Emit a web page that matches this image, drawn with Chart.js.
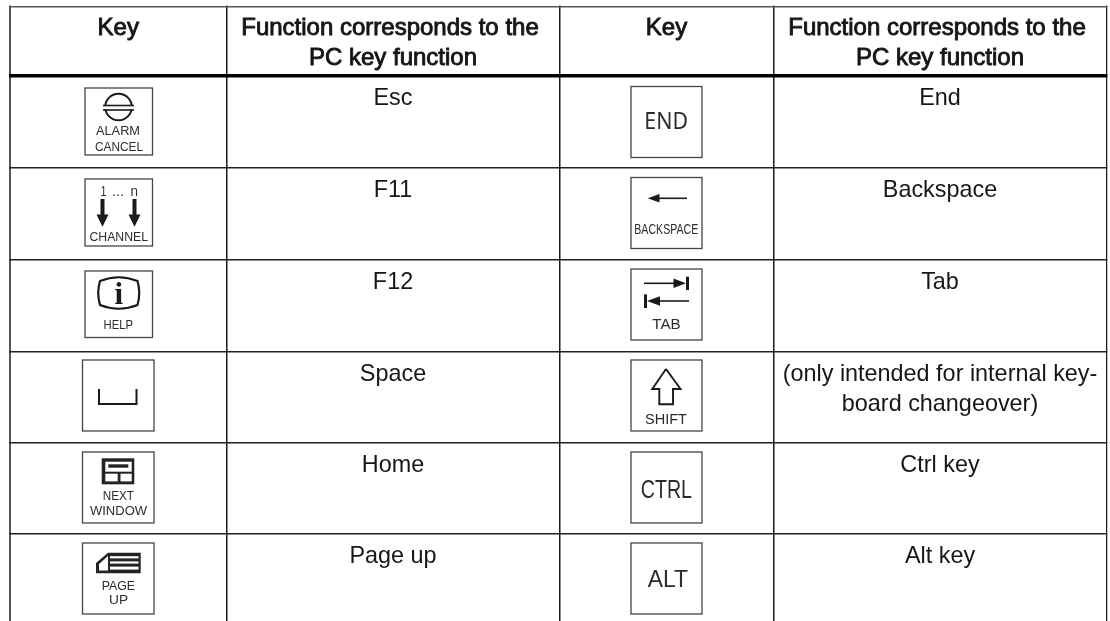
<!DOCTYPE html>
<html><head><meta charset="utf-8">
<style>html,body{margin:0;padding:0;background:#fff}canvas{display:block}</style>
<script src="https://cdn.jsdelivr.net/npm/chart.js@4"></script></head>
<body><canvas id="c" width="1110" height="621"></canvas>
<script>
// ---- table content ----
const headerKey = ['Key'];
const headerFunction = ['Function corresponds to the', 'PC key function'];
const functionsLeft = [['Esc'], ['F11'], ['F12'], ['Space'], ['Home'], ['Page up']];
const functionsRight = [['End'], ['Backspace'], ['Tab'],
  ['(only intended for internal key-', 'board changeover)'], ['Ctrl key'], ['Alt key']];
const keysLeft = ['alarm', 'channel', 'help', 'space', 'nextWindow', 'pageUp'];
const keysRight = ['end', 'backspace', 'tab', 'shift', 'ctrl', 'alt'];

// ---- table geometry, in scale units ----
const columnEdges = [10, 226.5, 559.5, 773.5, 1106.5];
const rowEdges = [6.5, 76, 168, 260, 351.5, 443, 534];
const boxesLeft = [[85,88,67.5,67],[85,179,67.5,67],[85,271,67.5,66.5],[82.5,360,71.5,71],[82.5,452,71.5,71],[82.5,543,71.5,71]];
const boxesRight = [[631,86.5,71,71],[631,177.5,71,71],[631,269,71,71],[631,360,71,71],[631,452,71,71],[631,543,71,71]];

const INK = '#161616', CAP = '#2c2c2c';
let X, Y;

function line(c, pts, w, col) {
  c.beginPath();
  pts.forEach((p, i) => i ? c.lineTo(X(p[0]), Y(p[1])) : c.moveTo(X(p[0]), Y(p[1])));
  c.lineWidth = w; c.strokeStyle = col || '#1a1a1a'; c.stroke();
}
function poly(c, pts, col) {
  c.beginPath();
  pts.forEach((p, i) => i ? c.lineTo(X(p[0]), Y(p[1])) : c.moveTo(X(p[0]), Y(p[1])));
  c.closePath(); c.fillStyle = col || '#1a1a1a'; c.fill();
}
function rect(c, x0, y0, x1, y1, col) {
  c.fillStyle = col; c.fillRect(X(x0), Y(y0), X(x1) - X(x0), Y(y1) - Y(y0));
}
// Key-cap lettering: squeezed to the width of the label on the key
function cap(c, txt, x0, x1, base, size, font) {
  c.save();
  c.font = size + 'px ' + (font || '"Liberation Sans"');
  c.textAlign = 'left'; c.textBaseline = 'alphabetic';
  const w = c.measureText(txt).width, k = (X(x1) - X(x0)) / w;
  c.translate(X(x0), Y(base)); c.scale(k, 1);
  c.fillStyle = CAP; c.fillText(txt, 0, 0);
  c.restore();
}
const glyphs = {
  alarm(c) {
    c.beginPath(); c.arc(X(118.5), Y(107), 13.3, 0, Math.PI * 2);
    c.lineWidth = 2; c.strokeStyle = '#1a1a1a'; c.stroke();
    rect(c, 102, 105.6, 135, 109.4, '#fff');
    line(c, [[103, 105.5], [134, 105.5]], 1.6);
    line(c, [[103, 110], [134, 110]], 1.6);
    cap(c, 'ALARM', 96, 140, 135.3, 12);
    cap(c, 'CANCEL', 95, 143, 151, 12);
  },
  channel(c) {
    cap(c, '1', 100.5, 106.5, 195.7, 14);
    cap(c, '...', 112, 124, 195.7, 14);
    cap(c, 'n', 130.5, 138, 195.7, 14);
    [102.5, 134.5].forEach(x => {
      rect(c, x - 2, 199, x + 2, 217, '#1a1a1a');
      poly(c, [[x - 6, 214.5], [x + 6, 214.5], [x, 226.7]]);
    });
    cap(c, 'CHANNEL', 89.5, 148, 240.7, 12.5);
  },
  help(c) {
    c.beginPath();
    c.moveTo(X(100), Y(281));
    c.quadraticCurveTo(X(118.7), Y(273.5), X(137.5), Y(281));
    c.quadraticCurveTo(X(141), Y(293), X(137.5), Y(305));
    c.quadraticCurveTo(X(118.7), Y(312.5), X(100), Y(305));
    c.quadraticCurveTo(X(96.5), Y(293), X(100), Y(281));
    c.closePath(); c.lineWidth = 2.2; c.strokeStyle = '#1a1a1a'; c.stroke();
    c.font = 'bold 31px "Liberation Serif"'; c.textAlign = 'center';
    c.textBaseline = 'alphabetic'; c.fillStyle = '#1a1a1a';
    c.fillText('i', X(118.7), Y(304));
    cap(c, 'HELP', 103.5, 133, 328.7, 12);
  },
  space(c) { line(c, [[99, 389], [99, 404], [136.5, 404], [136.5, 389]], 2); },
  nextWindow(c) {
    rect(c, 101.7, 458.3, 134.3, 484.3, '#232323');
    rect(c, 105.3, 461.7, 131.7, 471.7, '#fff');
    rect(c, 108.3, 464.3, 128.3, 467.7, '#232323');
    rect(c, 105.3, 473.7, 117.7, 481.4, '#fff');
    rect(c, 120.5, 473.7, 131.7, 481.4, '#fff');
    cap(c, 'NEXT', 102.7, 134, 500.3, 12.5);
    cap(c, 'WINDOW', 90, 147, 515, 12.5);
  },
  pageUp(c) {
    poly(c, [[108, 552.7], [140.7, 552.7], [140.7, 573.3], [96, 573.3], [96, 563]], '#232323');
    rect(c, 110, 556.2, 138.5, 558.4, '#fff');
    rect(c, 110, 561.4, 138.5, 563.6, '#fff');
    rect(c, 110, 566.6, 138.5, 569.6, '#fff');
    poly(c, [[108, 556], [108, 570.6], [99, 570.6], [99, 564]], '#fff');
    cap(c, 'PAGE', 101.7, 135, 590.3, 12.5);
    cap(c, 'UP', 109, 128, 604.3, 12.5);
  },
  end(c) { cap(c, 'END', 644.3, 688, 129.3, 23, '"Noto Sans"'); },
  backspace(c) {
    line(c, [[655, 198.3], [687, 198.3]], 1.6);
    poly(c, [[647.7, 198.3], [659.5, 194], [659.5, 202.6]]);
    cap(c, 'BACKSPACE', 634.3, 698.3, 234, 15);
  },
  tab(c) {
    line(c, [[644, 283.3], [675, 283.3]], 1.6);
    poly(c, [[686, 283.3], [673.5, 278.5], [673.5, 288]]);
    rect(c, 686, 276.7, 689, 290, '#1a1a1a');
    line(c, [[658, 301], [689, 301]], 1.6);
    poly(c, [[647, 301], [660, 296.2], [660, 305.8]]);
    rect(c, 644, 294.4, 647, 308, '#1a1a1a');
    cap(c, 'TAB', 652.3, 680.7, 329.3, 15);
  },
  shift(c) {
    line(c, [[666, 369], [680.5, 389], [673, 389], [673, 404.3], [659.3, 404.3], [659.3, 389], [652.3, 389], [666, 369]], 1.9);
    cap(c, 'SHIFT', 645, 687, 423.7, 15);
  },
  ctrl(c) { cap(c, 'CTRL', 640.7, 692, 497.7, 25); },
  alt(c) { cap(c, 'ALT', 647.7, 688, 587, 24.5); }
};

function drawLines(c, lines, cx, base, lead, bold) {
  c.textAlign = 'center'; c.textBaseline = 'alphabetic'; c.fillStyle = INK;
  c.font = bold ? '24px "Liberation Sans"' : '23.4px "Liberation Sans"';
  lines.forEach((t, i) => {
    // the first header line sits slightly left of its column centre
    const x = bold && lines.length === 2 && i === 0 ? cx - 3 : cx;
    c.fillText(t, X(x), Y(base + i * lead));
    if (bold) { c.strokeStyle = INK; c.lineWidth = 0.9; c.strokeText(t, X(x), Y(base + i * lead)); }
  });
}
function drawBox(c, b) {
  c.lineWidth = 1.3; c.strokeStyle = '#444';
  c.strokeRect(X(b[0]), Y(b[1]), X(b[0] + b[2]) - X(b[0]), Y(b[1] + b[3]) - Y(b[1]));
}
const tableCells = {
  id: 'tableCells',
  afterDatasetsDraw(chart) {
    const c = chart.ctx;
    X = v => chart.scales.x.getPixelForValue(v);
    Y = v => chart.scales.y.getPixelForValue(v);
    const mid = i => (columnEdges[i] + columnEdges[i + 1]) / 2;
    c.save();
    // the table frame stops at its outer edges
    rect(c, 0, 0, 1110, rowEdges[0] - 1, '#fff');
    rect(c, 0, 0, columnEdges[0] - 1, 621, '#fff');
    rect(c, columnEdges[4] + 1, 0, 1110, 621, '#fff');
    [0, 2].forEach(i => drawLines(c, headerKey, mid(i), 35, 30, true));
    [1, 3].forEach(i => drawLines(c, headerFunction, mid(i), 35, 30, true));
    functionsLeft.forEach((t, r) => drawLines(c, t, mid(1), rowEdges[r + 1] + 29, 30));
    functionsRight.forEach((t, r) => drawLines(c, t, mid(3), rowEdges[r + 1] + 29, 30));
    boxesLeft.forEach(b => drawBox(c, b));
    boxesRight.forEach(b => drawBox(c, b));
    keysLeft.forEach(k => glyphs[k](c));
    keysRight.forEach(k => glyphs[k](c));
    c.restore();
  }
};
const whitePage = {
  id: 'whitePage',
  beforeDraw(chart) { chart.ctx.fillStyle = '#fff'; chart.ctx.fillRect(0, 0, chart.width, chart.height); }
};
const gridAt = edges => ({
  afterBuildTicks(scale) { scale.ticks = edges.map(v => ({ value: v })); }
});
new Chart(document.getElementById('c'), {
  type: 'scatter',
  data: { datasets: [{ data: [], pointRadius: 0 }] },
  plugins: [whitePage, tableCells],
  options: {
    responsive: false, animation: false,
    layout: { padding: 0 },
    plugins: { legend: { display: false }, tooltip: { enabled: false } },
    scales: {
      x: { type: 'linear', min: 0, max: 1110, ...gridAt(columnEdges),
        border: { display: false }, ticks: { display: false },
        grid: { drawTicks: false, color: c => (c.index === 0 ? '#555' : '#1a1a1a'),
                lineWidth: c => (c.index === 0 ? 2 : 1.5) } },
      y: { type: 'linear', min: 0, max: 621, reverse: true, ...gridAt(rowEdges),
        border: { display: false }, ticks: { display: false },
        grid: { drawTicks: false, color: c => (c.index === 0 ? '#555' : c.index === 1 ? '#000' : '#222'),
                lineWidth: c => (c.index === 1 ? 3.5 : 1.5) } }
    }
  }
});
</script></body></html>
